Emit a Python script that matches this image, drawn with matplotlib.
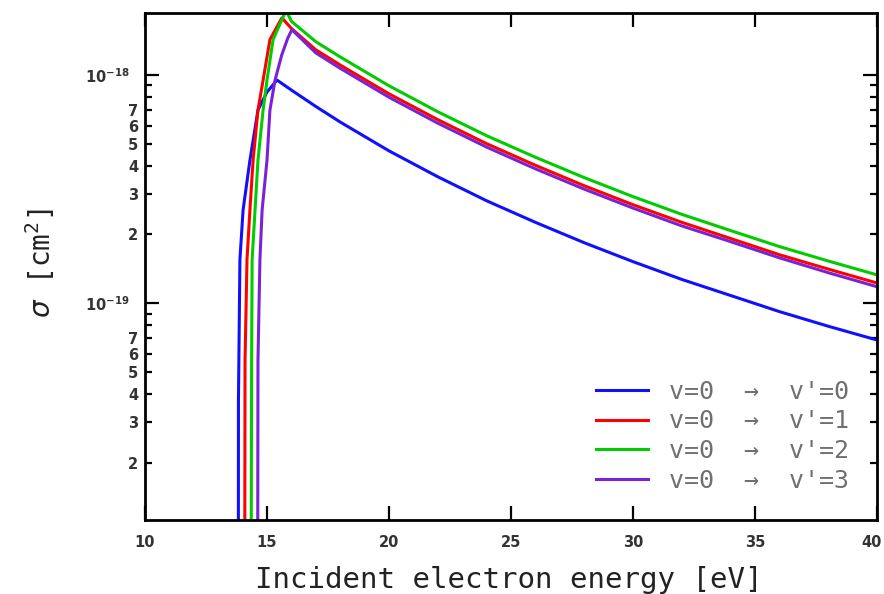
import math
import matplotlib
matplotlib.use("Agg")
import matplotlib.pyplot as plt
from matplotlib.ticker import FuncFormatter, FixedLocator
from matplotlib.transforms import ScaledTranslation

# energie incidente (eV) et section efficace (cm^2)
e_v0 = [13.81, 13.83, 13.89, 14.02, 14.30, 14.63, 15.00, 15.41, 16, 17, 18, 20,
        22, 24, 26, 28, 30, 32, 34, 36, 38, 40]
s_v0 = [1e-23, 3.76e-20, 1.55e-19, 2.56e-19, 4.23e-19, 7.02e-19, 8.42e-19, 9.50e-19,
        8.59e-19, 7.28e-19, 6.22e-19, 4.65e-19, 3.58e-19, 2.81e-19, 2.26e-19,
        1.84e-19, 1.52e-19, 1.27e-19, 1.08e-19, 9.18e-20, 7.92e-20, 6.89e-20]

e_v1 = [14.05, 14.10, 14.18, 14.30, 14.43, 14.63, 14.84, 15.12, 15.61, 16, 17, 18,
        20, 22, 24, 26, 28, 30, 32, 34, 36, 38, 40]
s_v1 = [1e-23, 5.62e-20, 1.55e-19, 2.56e-19, 4.23e-19, 7.02e-19, 9.50e-19, 1.43e-18,
        1.78e-18, 1.60e-18, 1.29e-18, 1.106e-18, 8.27e-19, 6.37e-19, 5.00e-19,
        4.02e-19, 3.27e-19, 2.70e-19, 2.26e-19, 1.92e-19, 1.63e-19, 1.41e-19, 1.225e-19]

e_v2 = [14.29, 14.37, 14.39, 14.51, 14.63, 14.84, 15.00, 15.25, 15.78, 16, 17, 18,
        20, 22, 24, 26, 28, 30, 32, 34, 36, 38, 40]
s_v2 = [1e-23, 5.62e-20, 1.55e-19, 2.56e-19, 4.23e-19, 7.02e-19, 9.50e-19, 1.43e-18,
        1.92e-18, 1.72e-18, 1.40e-18, 1.20e-18, 8.97e-19, 6.90e-19, 5.42e-19,
        4.36e-19, 3.55e-19, 2.93e-19, 2.45e-19, 2.08e-19, 1.77e-19, 1.53e-19, 1.33e-19]

e_v3 = [14.58, 14.63, 14.71, 14.80, 15.00, 15.12, 15.33, 15.60, 15.85, 16.02, 17,
        18, 20, 22, 24, 26, 28, 30, 32, 34, 36, 38, 40]
s_v3 = [1e-23, 5.62e-20, 1.55e-19, 2.56e-19, 4.23e-19, 7.02e-19, 9.50e-19, 1.22e-18,
        1.45e-18, 1.58e-18, 1.25e-18, 1.07e-18, 7.99e-19, 6.15e-19, 4.83e-19,
        3.88e-19, 3.16e-19, 2.61e-19, 2.18e-19, 1.86e-19, 1.58e-19, 1.36e-19, 1.18e-19]

labels = ["v=0  \u2192  v'=0", "v=0  \u2192  v'=1", "v=0  \u2192  v'=2", "v=0  \u2192  v'=3"]
couleurs = ["#1010ff", "#ff0000", "#00cc00", "#7a22d8"]

x_ticks = [10, 15, 20, 25, 30, 35, 40]
y_major = [1e-19, 1e-18]
y_minor = [2e-20, 3e-20, 4e-20, 5e-20, 6e-20, 7e-20, 8e-20, 9e-20,
           2e-19, 3e-19, 4e-19, 5e-19, 6e-19, 7e-19, 8e-19, 9e-19]

plt.rcParams['mathtext.default'] = 'regular'

fig = plt.figure(figsize=(8.84, 5.94), dpi=100)
ax = fig.add_axes([145 / 884, 1 - 520 / 594, 732 / 884, 507 / 594])

series = [(e_v0, s_v0), (e_v1, s_v1), (e_v2, s_v2), (e_v3, s_v3)]
for (e, s), lab, c in zip(series, labels, couleurs):
    ax.plot(e, s, color=c, lw=2.2, label=lab)

ax.set_yscale('log')
ax.set_xlim(10, 40)
ax.set_ylim(1.12e-20, 1.87e-18)
ax.set_xticks(x_ticks)

ax.yaxis.set_major_locator(FixedLocator(y_major))
ax.yaxis.set_minor_locator(FixedLocator(y_minor))


def fmt_major(v, pos):
    return r'$10^{%d}$' % int(round(math.log10(v)))


def fmt_minor(v, pos):
    m = int(round(v / 10 ** math.floor(math.log10(v) + 1e-9)))
    return str(m) if 2 <= m <= 7 else ''


ax.yaxis.set_major_formatter(FuncFormatter(fmt_major))
ax.yaxis.set_minor_formatter(FuncFormatter(fmt_minor))

for sp in ax.spines.values():
    sp.set_linewidth(2.0)

ax.tick_params(which='both', direction='in', top=True, right=True, width=1.6,
               labelsize=10.5, colors='black')
ax.tick_params(which='major', length=10, pad=11)
ax.tick_params(which='minor', length=5, pad=5)
for t in ax.get_xticklabels() + ax.get_yticklabels(which='both'):
    t.set_fontweight('bold')
    t.set_color('#333333')

# le "40" colle au bord droit : on le decale un peu
dernier = ax.xaxis.get_major_ticks()[-1].label1
dernier.set_transform(dernier.get_transform() + ScaledTranslation(-0.05, 0, fig.dpi_scale_trans))

leg = ax.legend(loc='lower right', frameon=False, handlelength=2.1,
                handletextpad=0.85, labelspacing=0.22, borderaxespad=0.7,
                prop={'family': 'DejaVu Sans Mono', 'size': 18})
for t in leg.get_texts():
    t.set_color('#707070')

fig.text(509 / 884, 1 - 588 / 594, 'Incident electron energy [eV]',
         family='DejaVu Sans Mono', fontsize=21, ha='center', va='baseline',
         color='#222222')
fig.text(40 / 884, 1 - 263 / 594, r'$\mathit{\sigma}$ [cm$^{2}$]', family='DejaVu Sans Mono',
         fontsize=20, rotation=90, ha='center', va='center', color='#222222')

fig.savefig('out.png', dpi=100)
